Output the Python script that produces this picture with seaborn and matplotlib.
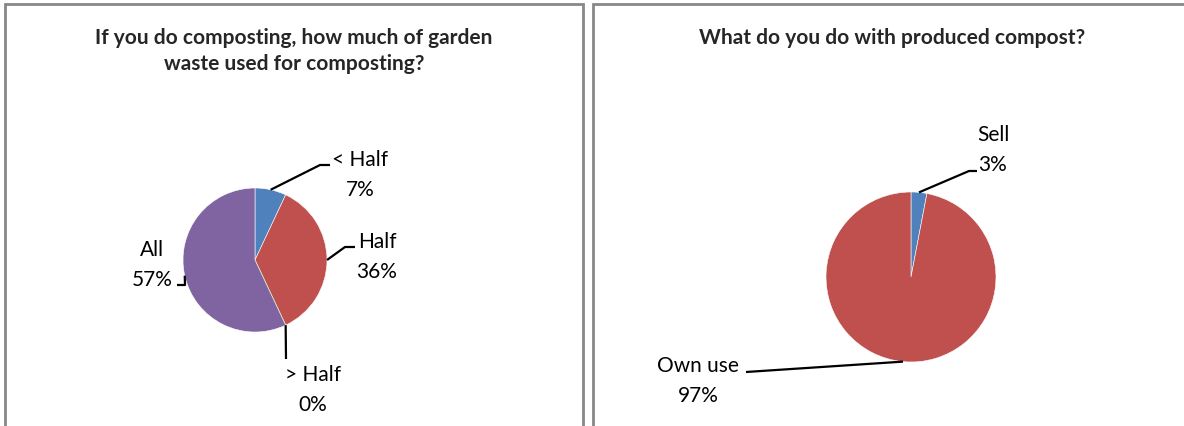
"""Composting survey: two pie charts side by side."""

import matplotlib.pyplot as plt
import numpy as np
import seaborn as sns
from matplotlib.patches import Rectangle

# Data
waste_labels = ["< Half", "Half", "> Half", "All"]
waste_pct = [7, 36, 0, 57]
waste_title = "If you do composting, how much of garden\nwaste used for composting?"

use_labels = ["Sell", "Own use"]
use_pct = [3, 97]
use_title = "What do you do with produced compost?"

W, H = 1184, 427
BLUE, RED, GREEN, PURPLE = "#4F81BD", "#C0504D", "#9BBB59", "#8064A2"

sns.set_theme(style="white")
plt.rcParams["font.family"] = ["Lato", "DejaVu Sans"]


def img(x, y):
    # image pixel coords (y down) -> axes data coords (y up)
    return x, H - y


def draw_pie(ax, values, labels, colors, center, radius, layout):
    wedges, _ = ax.pie(
        values,
        colors=colors,
        startangle=90,
        counterclock=False,
        center=img(*center),
        radius=radius,
        wedgeprops=dict(linewidth=0.4, edgecolor="white"),
    )
    for w, lab, val, (tx, ty, path) in zip(wedges, labels, values, layout):
        if val == 0:
            w.set_edgecolor(GREEN)
            w.set_linewidth(0.8)
        mid = np.deg2rad((w.theta1 + w.theta2) / 2)
        ax0 = w.center[0] + w.r * np.cos(mid)
        ay0 = w.center[1] + w.r * np.sin(mid)
        xs = [ax0] + [p[0] for p in path]
        ys = [ay0] + [H - p[1] for p in path]
        ax.plot(xs, ys, color="black", lw=1.6, solid_capstyle="butt")
        ax.text(*img(tx, ty), f"{lab}\n{val}%", ha="center", va="center",
                fontsize=15, linespacing=1.6, color="black")


fig = plt.figure(figsize=(W / 100, H / 100), dpi=100)
ax = fig.add_axes([0, 0, 1, 1])

# panel frames
for x0, x1 in [(5, 583), (593, 1200)]:
    ax.add_patch(Rectangle((x0, -20), x1 - x0, H - 5 + 20, fill=False,
                           edgecolor="#888888", lw=2.0, zorder=0))

draw_pie(
    ax, waste_pct, waste_labels, [BLUE, RED, GREEN, PURPLE],
    center=(255, 261), radius=72,
    layout=[
        (360, 175, [(320, 166), (330, 166)]),
        (377, 257, [(345, 248), (355, 248)]),
        (313, 390, [(286, 360)]),
        (152, 265, [(185, 286), (177, 286)]),
    ],
)
draw_pie(
    ax, use_pct, use_labels, [BLUE, RED],
    center=(911, 278), radius=85,
    layout=[
        (993, 150, [(969, 172), (977, 172)]),
        (698, 381, [(746, 373)]),
    ],
)

ax.text(*img(294, 51), waste_title, ha="center", va="center",
        fontsize=15, fontweight="bold", linespacing=1.35)
ax.text(*img(892, 38), use_title, ha="center", va="center",
        fontsize=15, fontweight="bold")

ax.set_xlim(0, W)
ax.set_ylim(0, H)
ax.set_axis_off()

fig.savefig("out.png", dpi=100)
